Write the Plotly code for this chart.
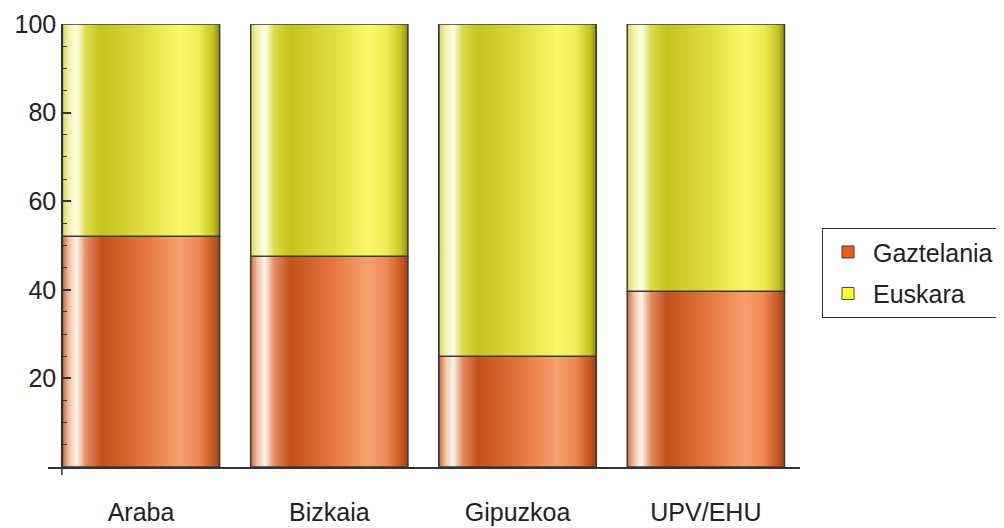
import plotly.graph_objects as go

categories = ["Araba", "Bizkaia", "Gipuzkoa", "UPV/EHU"]
gaztelania = [52.1, 47.6, 25.0, 39.7]
euskara = [100 - v for v in gaztelania]
series_names = ["Gaztelania", "Euskara"]
y_ticks = [20, 40, 60, 80, 100]

bar_w = 0.835
xs = list(range(len(categories)))

flat_colors = ["#F05A14", "#FFFF1E"]
orange_scale = [
    [0.0, "rgb(205,100,60)"], [0.04, "rgb(240,190,160)"], [0.09, "rgb(255,245,235)"],
    [0.15, "rgb(230,140,100)"], [0.25, "rgb(195,80,25)"], [0.5, "rgb(225,115,60)"],
    [0.75, "rgb(248,160,110)"], [0.87, "rgb(235,135,85)"], [0.96, "rgb(200,85,30)"],
    [1.0, "rgb(150,70,30)"],
]
yellow_scale = [
    [0.0, "rgb(215,215,90)"], [0.04, "rgb(240,240,170)"], [0.09, "rgb(255,255,235)"],
    [0.15, "rgb(220,220,70)"], [0.25, "rgb(198,194,28)"], [0.5, "rgb(222,218,60)"],
    [0.75, "rgb(250,248,105)"], [0.87, "rgb(238,235,85)"], [0.96, "rgb(198,194,30)"],
    [1.0, "rgb(140,140,30)"],
]

fig = go.Figure()

# legend / base bars
for name, vals, col in zip(series_names, [gaztelania, euskara], flat_colors):
    fig.add_trace(go.Bar(
        x=xs, y=vals, width=bar_w, name=name, legendgroup=name,
        marker=dict(color=col, line=dict(color="#444", width=1)),
        hoverinfo="skip",
    ))

# gradient overlays
for i, c in enumerate(xs):
    segs = [(0, gaztelania[i], orange_scale), (gaztelania[i], gaztelania[i] + euskara[i], yellow_scale)]
    for base, top, scale in segs:
        x0, x1 = c - bar_w / 2, c + bar_w / 2
        fig.add_trace(go.Scatter(
            x=[x0, x1, x1, x0, x0], y=[base, base, top, top, base],
            mode="lines", fill="toself",
            fillgradient=dict(type="horizontal", colorscale=scale),
            line=dict(color="#3a3a3a", width=1.5),
            showlegend=False, hoverinfo="skip",
        ))

# small tick below origin
fig.add_shape(type="line", xref="x", yref="paper", x0=-0.42, x1=-0.42, y0=0, y1=-0.018,
              line=dict(color="#333", width=1.5))

fig.update_layout(
    width=996, height=520,
    margin=dict(l=40, r=204, t=16, b=61, autoexpand=False),
    barmode="stack",
    plot_bgcolor="white", paper_bgcolor="white",
    font=dict(family="Liberation Sans, Arial, sans-serif", size=25, color="#222"),
    showlegend=True,
    legend=dict(
        x=1.029, y=0.5395, xanchor="left", yanchor="top",
        bordercolor="#333", borderwidth=1.2, bgcolor="white",
        traceorder="grouped", tracegroupgap=6, itemwidth=40,
        font=dict(size=25, color="#222"),
    ),
    xaxis=dict(
        range=[-0.494, 3.5], tickmode="array", tickvals=xs, ticktext=categories,
        showline=True, linecolor="#333", linewidth=1.5, ticks="",
        showgrid=False, zeroline=False, ticklabelstandoff=22, automargin=False,
    ),
    yaxis=dict(
        range=[0, 100], tickmode="array", tickvals=y_ticks,
        showline=True, linecolor="#333", linewidth=1.5,
        ticks="inside", ticklen=8, tickcolor="#333", tickwidth=1.5,
        minor=dict(dtick=5, ticks="inside", ticklen=4, tickcolor="#333", tickwidth=1.2),
        showgrid=False, zeroline=False, automargin=False,
        anchor="free", position=(62 - 48) / 752,
    ),
)

fig.write_html("out.html")
